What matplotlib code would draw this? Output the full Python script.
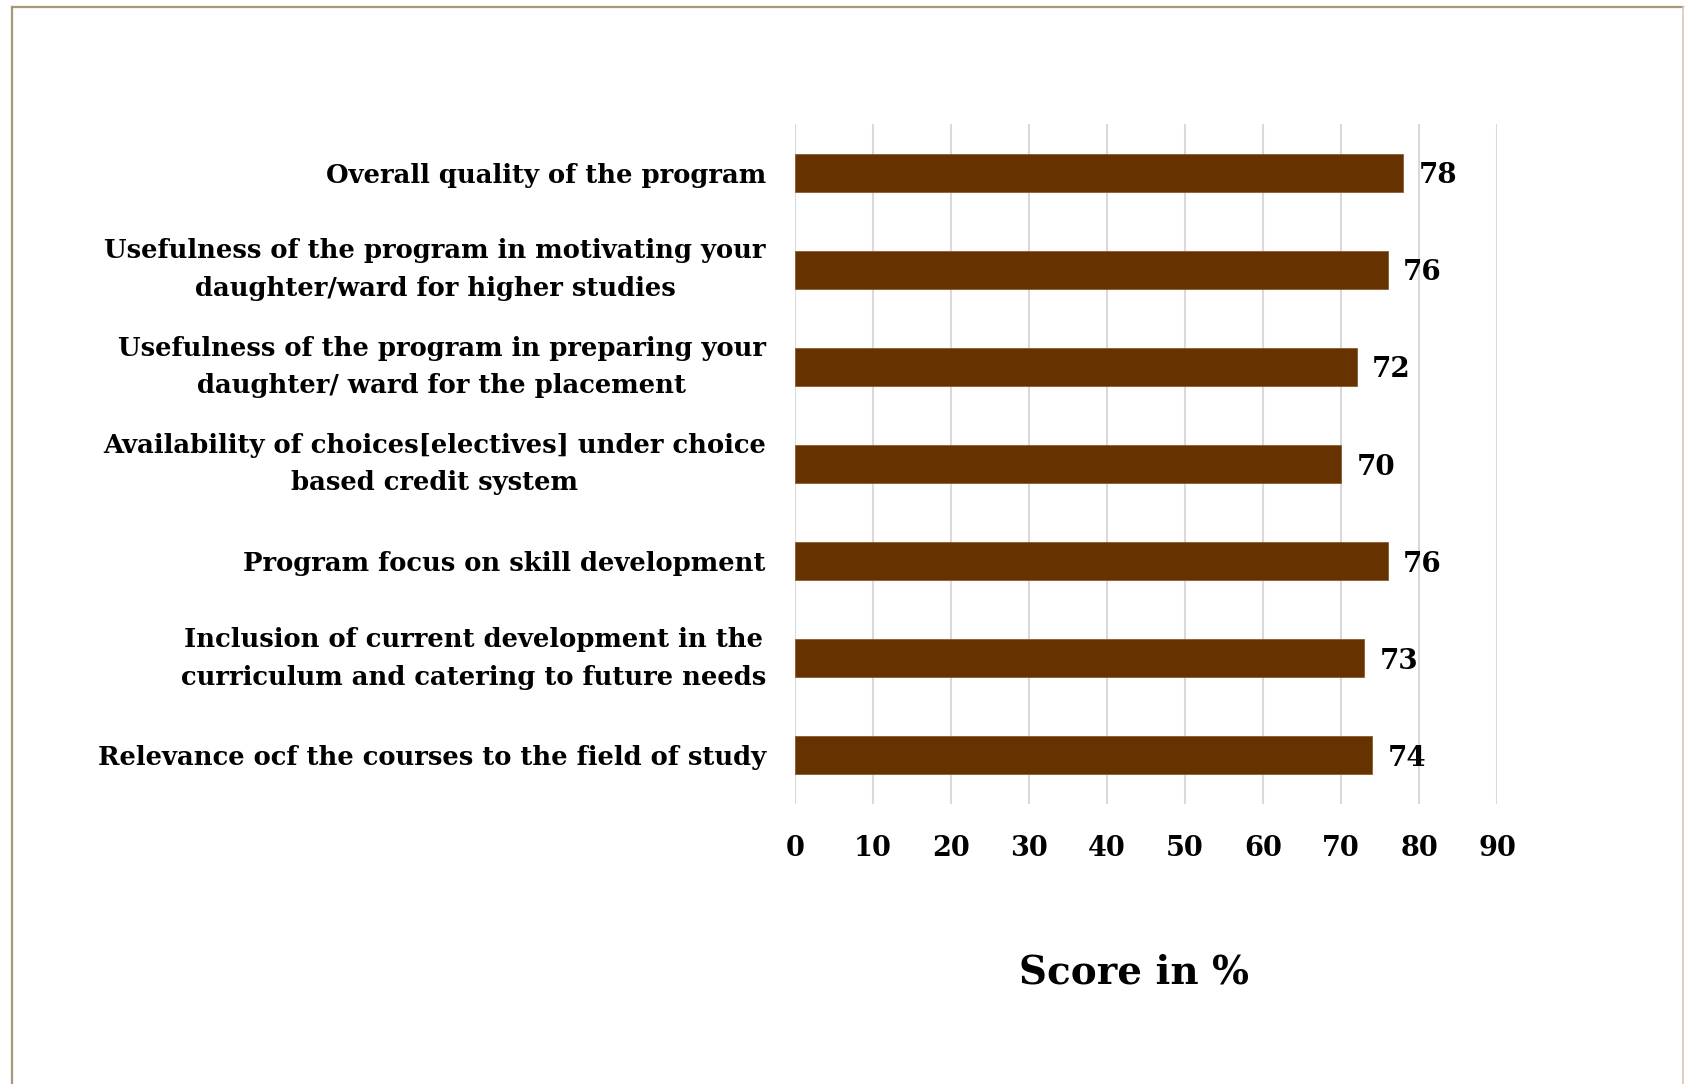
import matplotlib
matplotlib.use("Agg")
import matplotlib.pyplot as plt
from matplotlib.lines import Line2D

# survey items (top to bottom as shown) and their scores
items = [
    "Overall quality of the program",
    "Usefulness of the program in motivating your\ndaughter/ward for higher studies",
    "Usefulness of the program in preparing your\ndaughter/ ward for the placement",
    "Availability of choices[electives] under choice\nbased credit system",
    "Program focus on skill development",
    "Inclusion of current development in the\ncurriculum and catering to future needs",
    "Relevance ocf the courses to the field of study",
]
scores = [78, 76, 72, 70, 76, 73, 74]
xticks = [0, 10, 20, 30, 40, 50, 60, 70, 80, 90]

bar_color = "#663300"
grid_color = "#D9D9D9"
frame_color = "#AD957A"

plt.rcParams['font.family'] = ['DejaVu Serif']
plt.rcParams['font.weight'] = 'bold'

W, H = 1685, 1084
fig = plt.figure(figsize=(W / 100, H / 100), dpi=100)

ax = fig.add_axes([795 / W, 1 - 804 / H, (1497 - 795) / W, (804 - 124) / H])
pos = list(range(len(items)))
ax.barh(pos, scores, height=0.39, color=bar_color, edgecolor="#8a5a30", linewidth=0.6, zorder=3)
ax.set_ylim(len(items) - 0.5, -0.5)
ax.set_xlim(0, 90)
ax.set_xticks(xticks)
ax.set_yticks(pos)
ax.set_yticklabels(items, fontsize=18.6, fontweight='bold')
for t in ax.get_yticklabels():
    t.set_multialignment('center')
    t.set_linespacing(1.63)
    if "\n" in t.get_text():
        t.set_verticalalignment('center')
ax.tick_params(axis='y', length=0, pad=21)
ax.tick_params(axis='x', length=0, pad=22, labelsize=19.5)
for t in ax.get_xticklabels():
    t.set_fontweight('bold')
ax.grid(axis='x', color=grid_color, linewidth=1.5, zorder=0)
for s in ax.spines.values():
    s.set_visible(False)

for p, v in zip(pos, scores):
    ax.annotate(str(v), (v, p), xytext=(11, 0), textcoords='offset points',
                va='center_baseline', ha='left', fontsize=20, fontweight='bold')

fig.text(1134 / W, 1 - 972 / H, "Score in %", ha='center', va='center',
         fontsize=28, fontweight='bold')

# page frame: left, top, right edges
fx0, fx1, fy1 = 12 / W, 1683 / W, 1 - 7 / H
fig.add_artist(Line2D([fx0, fx0], [0, fy1], color=frame_color, linewidth=1.6, transform=fig.transFigure))
fig.add_artist(Line2D([fx0, fx1], [fy1, fy1], color=frame_color, linewidth=1.6, transform=fig.transFigure))
fig.add_artist(Line2D([fx1, fx1], [0, fy1], color="#D8C8B8", linewidth=1.2, transform=fig.transFigure))

fig.savefig("out.png", dpi=100)
